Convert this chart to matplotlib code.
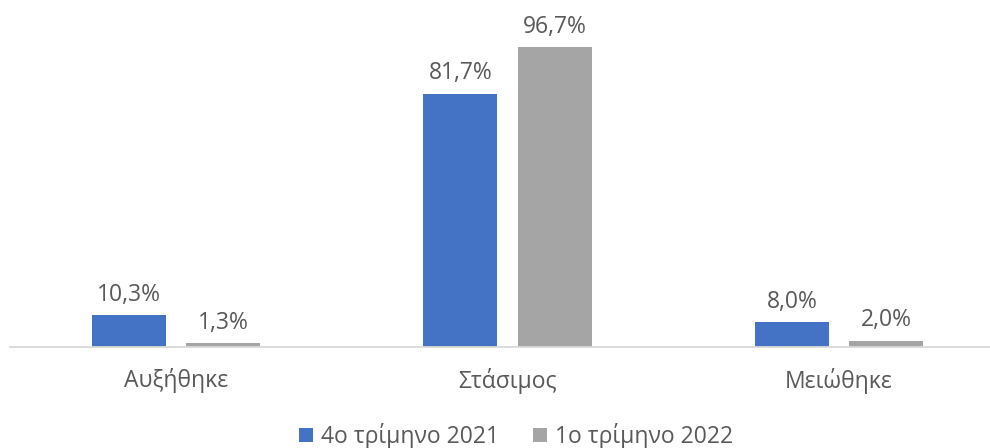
import matplotlib
matplotlib.use("Agg")
import matplotlib.pyplot as plt
import numpy as np

categories = ["Αυξήθηκε", "Στάσιμος", "Μειώθηκε"]
series_names = ["4ο τρίμηνο 2021", "1ο τρίμηνο 2022"]
q4_2021 = [10.3, 81.7, 8.0]
q1_2022 = [1.3, 96.7, 2.0]
colors = ["#4472C4", "#A5A5A5"]

plt.rcParams['font.family'] = ['Open Sans', 'DejaVu Sans']
txt = "#595959"
fs = 16.5

fig = plt.figure(figsize=(9.9, 4.48), dpi=100)
ax = fig.add_axes([10/990, 1-347/448, 980/990, 327/448])

x = np.arange(len(categories))
w = 0.223
off = 0.142
for vals, c, s, name in [(q4_2021, colors[0], -1, series_names[0]), (q1_2022, colors[1], 1, series_names[1])]:
    bars = ax.bar(x + s*off, vals, width=w, color=c, label=name)
    for b, v in zip(bars, vals):
        ax.annotate(f"{v:.1f}%".replace(".", ","), (b.get_x()+b.get_width()/2, v),
                    xytext=(0, 6), textcoords="offset points", ha="center", va="bottom",
                    fontsize=fs, color=txt)

ax.set_xlim(-0.5, 2.455)
ax.set_ylim(0, 105.4)
ax.set_xticks(x)
ax.set_xticklabels(categories, fontsize=fs, color=txt)
ax.tick_params(axis='x', length=0, pad=15)
ax.set_yticks([])
for sp in ["top", "right", "left"]:
    ax.spines[sp].set_visible(False)
ax.spines["bottom"].set_color("#D9D9D9")
ax.spines["bottom"].set_linewidth(1.3)

fig.legend(loc="center", bbox_to_anchor=(0.521, 1-436/448), ncol=2, frameon=False,
           fontsize=fs, labelcolor=txt, handlelength=0.6, handleheight=0.6,
           handletextpad=0.35, columnspacing=1.5)

fig.savefig("out.png", dpi=100)
